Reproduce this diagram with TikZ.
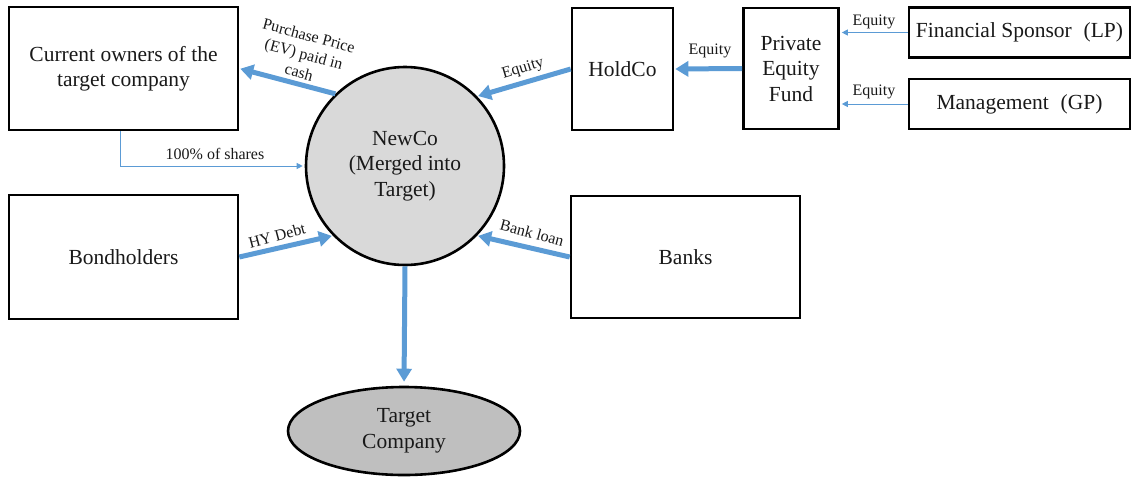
\documentclass[tikz,border=0pt]{standalone}
\usepackage{fontspec}
\setmainfont{Liberation Serif}
\usetikzlibrary{arrows.meta,shapes.geometric}
\definecolor{arrowblue}{RGB}{91,155,213}
\definecolor{circlegray}{RGB}{217,217,217}
\definecolor{ellgray}{RGB}{191,191,191}
\definecolor{txtcol}{RGB}{25,25,25}
\newcommand{\mainfnt}{\fontsize{21.5}{25.5}\selectfont}
\newcommand{\lblfnt}{\fontsize{16}{19}\selectfont}
\begin{document}
\begin{tikzpicture}[x=1pt,y=-1pt,
  box/.style={draw=black,line width=2.6pt,rectangle,inner sep=0pt,align=center,font=\mainfnt,text=txtcol},
  bigarrow/.style={draw=arrowblue,line width=5pt,-{Triangle[width=15pt,length=13pt]}},
  thinarrow/.style={draw=arrowblue,line width=0.9pt,-{Triangle[width=6pt,length=6pt]}},
  lbl/.style={font=\lblfnt,text=txtcol,inner sep=0pt,align=center}]
\useasboundingbox (0,0) rectangle (1132,477);
% nodes
\node[box,minimum width=229pt,minimum height=123pt] (owners) at (123.5,68.5) {Current owners of the\\target company};
\node[box,minimum width=101pt,minimum height=122pt] (holdco) at (622.5,69) {HoldCo};
\node[box,minimum width=95pt,minimum height=121pt] (pef) at (791,68.5) {Private\\Equity\\Fund};
\node[box,minimum width=221pt,minimum height=50pt] (fs) at (1019.5,32.5) {Financial Sponsor\hspace{0.3em} (LP)};
\node[box,minimum width=221pt,minimum height=50pt] (mgmt) at (1019.5,104) {Management\hspace{0.3em} (GP)};
\node[box,minimum width=229pt,minimum height=124pt] (bond) at (123.5,257) {Bondholders};
\node[box,minimum width=229pt,minimum height=122pt] (banks) at (685.5,257) {Banks};
\node[circle,draw=black,line width=2.6pt,fill=circlegray,minimum size=198pt,inner sep=0pt,align=center,font=\mainfnt,text=txtcol] (newco) at (405,166) {NewCo\\(Merged into\\Target)};
\node[ellipse,draw=black,line width=2.6pt,fill=ellgray,minimum width=232pt,minimum height=88pt,inner sep=0pt,align=center,font=\mainfnt,text=txtcol] (target) at (404,431) {Target\\Company};
% connectors
\draw[bigarrow,shorten >=1pt] (newco.134) -- (owners.east);
\draw[bigarrow,shorten >=1pt] (holdco.west) -- (newco.44);
\draw[bigarrow,shorten >=1pt] (pef.west) -- (holdco.east);
\draw[thinarrow,shorten >=2pt] (fs.west) -- (pef.east |- fs.west);
\draw[thinarrow,shorten >=2pt] (mgmt.west) -- (pef.east |- mgmt.west);
\draw[thinarrow,shorten >=2pt] ([xshift=-3pt]owners.south) |- (newco.west);
\draw[bigarrow,shorten >=1pt] (bond.east) -- (newco.224);
\draw[bigarrow,shorten >=1pt] (banks.west) -- (newco.316);
\draw[bigarrow,shorten >=4pt] (newco.south) -- (target.north);
% labels
\node[lbl,rotate=-15] (lpp) at (304,54) {Purchase Price\\(EV) paid in\\cash};
\node[lbl,rotate=17] (leq1) at (523,69) {Equity};
\node[lbl] (leq2) at (710,51) {Equity};
\node[lbl] (leq3) at (874,22) {Equity};
\node[lbl] (leq4) at (874,92) {Equity};
\node[lbl] (lsh) at (215,154) {100\% of shares};
\node[lbl,rotate=15] (lhy) at (277,236) {HY Debt};
\node[lbl,rotate=-15] (lbk) at (532,233) {Bank loan};
\end{tikzpicture}
\end{document}
